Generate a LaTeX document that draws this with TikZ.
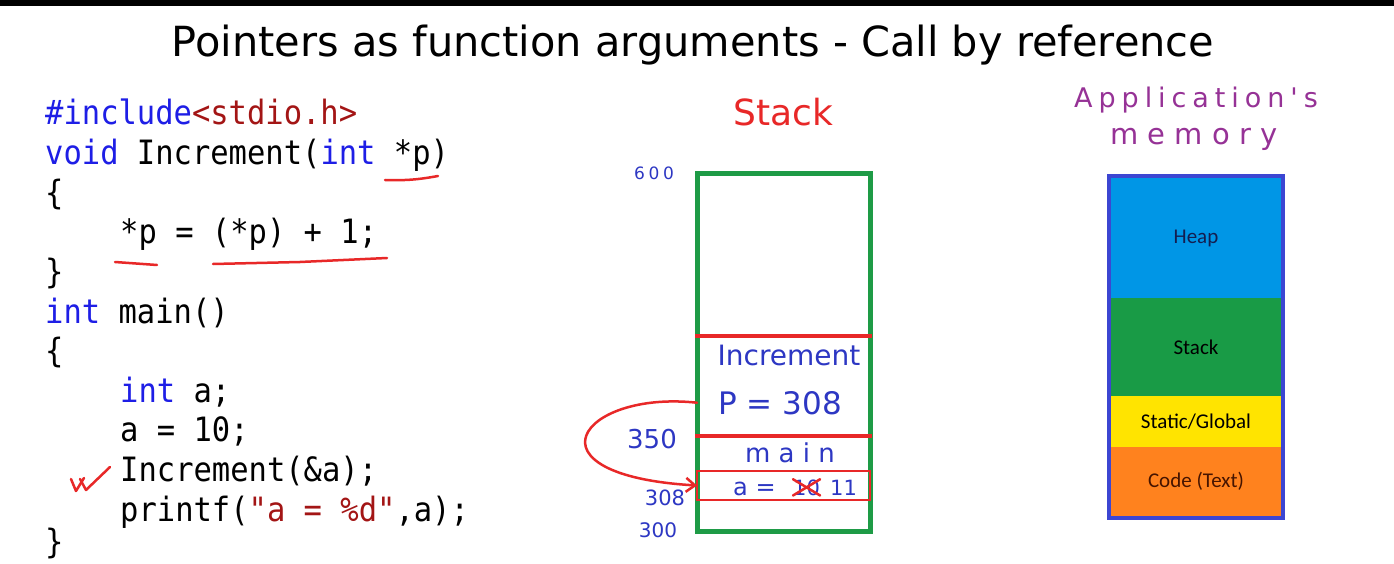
\documentclass[tikz,border=0pt]{standalone}
\usepackage{fontspec}
\usepackage{xcolor}
\setmainfont{DejaVu Sans}
\newfontfamily\codefont[FakeStretch=0.91]{DejaVu Sans Mono}
\newfontfamily\handfont{DejaVu Sans}
\newfontfamily\handwide[LetterSpace=22]{DejaVu Sans}
\newfontfamily\handwider[LetterSpace=32]{DejaVu Sans}
\newfontfamily\boxfont{Carlito}
\definecolor{kwblue}{RGB}{30,30,230}
\definecolor{strred}{RGB}{163,21,21}
\definecolor{handblue}{RGB}{45,55,195}
\definecolor{handred}{RGB}{232,40,40}
\definecolor{handpurple}{RGB}{150,50,150}
\definecolor{stackgreen}{RGB}{30,155,70}
\definecolor{memborder}{RGB}{60,70,210}
\definecolor{memheap}{RGB}{0,150,230}
\definecolor{memstack}{RGB}{25,155,70}
\definecolor{memstatic}{RGB}{255,228,0}
\definecolor{memcode}{RGB}{255,130,30}
\newcommand{\kw}[1]{\textcolor{kwblue}{#1}}
\newcommand{\cstr}[1]{\textcolor{strred}{#1}}
\usetikzlibrary{arrows.meta, positioning}

\begin{document}
\begin{tikzpicture}[x=1pt, y=-1pt,
  code/.style={anchor=base west, inner sep=0pt, font=\codefont\fontsize{33.5}{40}\selectfont},
  hand/.style={anchor=base, inner sep=0pt, text=handblue},
  frame/.style={rectangle, inner sep=0pt, outer sep=0pt, minimum width=173pt},
  memcell/.style={rectangle, inner sep=0pt, outer sep=0pt, minimum width=170pt,
                  font=\boxfont\fontsize{21}{21}\selectfont},
  ink/.style={draw=handred, line width=2.5pt, line cap=round, line join=round},
  sep/.style={draw=handred, line width=4pt, shorten <=-2pt, shorten >=-2pt},
  arr/.style={ink, -{Straight Barb[length=9pt, width=14pt]}}
]
  \useasboundingbox (0,0) rectangle (1394,564);
  \fill[white] (0,0) rectangle (1394,564);
  \fill[black] (0,0) rectangle (1394,6);

  % Title
  \node[anchor=base, inner sep=0pt, font=\handfont\fontsize{41.5}{42}\selectfont] (title) at (693,57)
    {Pointers as function arguments - Call by reference};

  % Source code
  \node[code] (inc)    at (45,125)   {\kw{\#include}\cstr{<stdio.h>}};
  \node[code] (fdecl)  at (45,164.6) {\kw{void} Increment(\kw{int} *p)};
  \node[code] (ob1)    at (45,204.2) {\{};
  \node[code] (body)   at (120,243.8) {*p = (*p) + 1;};
  \node[code] (cb1)    at (45,283.4) {\}};
  \node[code] (mdecl)  at (45,323)   {\kw{int} main()};
  \node[code] (ob2)    at (45,362.6) {\{};
  \node[code] (decl)   at (120,402.2) {\kw{int} a;};
  \node[code] (assign) at (120,441.8) {a = 10;};
  \node[code] (call)   at (120,481.4) {Increment(\&a);};
  \node[code] (print)  at (120,521)   {printf(\cstr{"a = \%d"},a);};
  \node[code] (cb2)    at (45,553) {\}};

  % Red marks on the code
  \draw[ink] (385,180) to[bend right=6] (438,176);
  \draw[ink] (115,262) -- (157,265);
  \draw[ink] (213,264) -- (300,262) -- (387,258);
  \draw[ink] (71,479) -- (76,491) -- (84,478);
  \draw[ink] (80,479) -- (86,490) -- (110,467);

  % Stack
  \node[hand, text=handred, font=\handfont\fontsize{36}{36}\selectfont] (stacklbl) at (783,126) {Stack};
  \node[frame, draw=stackgreen, line width=5pt, minimum height=357pt] (stk) at (783.5,352.5) {};
  \node[frame, minimum height=100pt] (incr) at (783.5,386) {};
  \node[frame, minimum height=95pt] (mainf) at (783.5,483.5) {};
  \node[frame, draw=handred, line width=2.5pt, minimum height=29pt] (acell) at (783.5,485.5) {};
  \draw[sep] (incr.north west) -- (incr.north east);
  \draw[sep] (mainf.north west) -- (mainf.north east);
  % Frame contents
  \node[hand, font=\handfont\fontsize{28}{28}\selectfont] (incrlbl) at (789,365) {Increment};
  \node[hand, font=\handfont\fontsize{31}{31}\selectfont] (pval) at (780,414) {P = 308};
  \node[hand, font=\handwider\fontsize{26}{26}\selectfont] (mainlbl) at (790,462) {main};
  \node[hand, anchor=base west, font=\handfont\fontsize{24}{24}\selectfont] (aval) at (733,495) {a =};
  \node[hand, anchor=base west, font=\handfont\fontsize{21}{21}\selectfont] (ten) at (793,495) {10};
  \node[hand, anchor=base west, font=\handfont\fontsize{21}{21}\selectfont] (eleven) at (830,495) {11};
  \draw[ink] (ten.north west) -- (ten.south east);
  \draw[ink] (ten.south west) -- (ten.north east);
  % Addresses
  \node[hand, font=\handwide\fontsize{17}{17}\selectfont] (a600) at (654,180) {600};
  \node[hand, font=\handfont\fontsize{26}{26}\selectfont] (a350) at (652,448) {350};
  \node[hand, font=\handfont\fontsize{21}{21}\selectfont] (a308) at (665,505) {308};
  \node[hand, font=\handfont\fontsize{20}{20}\selectfont] (a300) at (658,537) {300};
  % Pointer arrow
  \draw[arr] (incr.west |- pval.center) .. controls (580,390) and (520,475) .. (acell.west);

  % Application's memory
  \node[hand, text=handpurple, font=\handwide\fontsize{27}{27}\selectfont] (applbl) at (1196,108) {Application's};
  \node[hand, text=handpurple, font=\handwider\fontsize{29}{29}\selectfont] (memlbl) at (1194,145) {memory};
  \node[memcell, fill=memheap, minimum height=120pt, text={rgb,255:red,20;green,30;blue,80}] (heap) at (1196,238) {Heap};
  \node[memcell, fill=memstack, minimum height=98pt, below=0pt of heap] (mstack) {Stack};
  \node[memcell, fill=memstatic, minimum height=51pt, below=0pt of mstack] (mstatic) {Static/Global};
  \node[memcell, fill=memcode, minimum height=69pt, below=0pt of mstatic, text={rgb,255:red,70;green,20;blue,0}] (mcode) {Code (Text)};
  \draw[memborder, line width=4pt] ([xshift=-2pt, yshift=2pt]heap.north west) rectangle ([xshift=2pt, yshift=-2pt]mcode.south east);
\end{tikzpicture}
\end{document}
